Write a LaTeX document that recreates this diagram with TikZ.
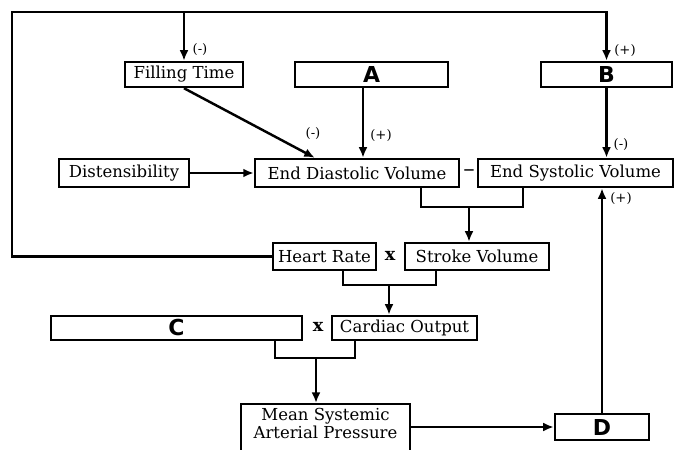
\documentclass[tikz,border=0pt]{standalone}
\usepackage{fontspec}
\setmainfont{DejaVu Serif}
\newfontfamily\lettersf{DejaVu Sans}
\usetikzlibrary{arrows.meta}

\begin{document}
\begin{tikzpicture}[x=0.02cm,y=-0.02cm,
    box/.style={draw,line width=1.4pt,inner sep=0pt,minimum height=0.5cm,
        font=\fontsize{9.4}{10.2}\selectfont},
    letter/.style={font=\lettersf\bfseries\fontsize{12.5}{12.5}\selectfont},
    sign/.style={inner sep=0pt,font=\fontsize{7.5}{8}\selectfont},
    op/.style={inner sep=0pt,font=\bfseries\fontsize{10}{10}\selectfont},
    wire/.style={line width=1.4pt},
    arr/.style={line width=1.4pt,-{Latex[length=6pt,width=5pt]}}]
    % Схема регуляции: пиксели исходного рисунка, ось y вниз.
    \useasboundingbox (0,0) rectangle (675,449);

    \node[box,minimum width=2.36cm] (ft) at (184,74.5) {Filling Time};
    \node[box,letter,minimum width=3.06cm] (A) at (371.5,74.5) {A};
    \node[box,letter,minimum width=2.62cm] (B) at (606.5,74.5) {B};
    \node[box,minimum width=2.6cm,minimum height=0.56cm] (dist) at (124,173) {Distensibility};
    \node[box,minimum width=4.08cm,minimum height=0.56cm] (edv) at (357,173) {End Diastolic Volume};
    \node[box,minimum width=3.9cm,minimum height=0.56cm] (esv) at (575.5,173) {End Systolic Volume};
    \node[inner sep=0pt,font=\fontsize{13}{13}\selectfont] (minus) at (469,173) {--};
    \node[box,minimum width=2.06cm,minimum height=0.54cm] (hr) at (324.5,256.5) {Heart Rate};
    \node[box,minimum width=2.88cm,minimum height=0.54cm] (sv) at (477,256.5) {Stroke Volume};
    \node[op] (times1) at (390,256) {x};
    \node[box,letter,minimum width=5.02cm,minimum height=0.48cm] (C) at (176.5,328) {C};
    \node[box,minimum width=2.9cm,minimum height=0.48cm] (co) at (404.5,328) {Cardiac Output};
    \node[op] (times2) at (318,327) {x};
    \node[box,align=center,minimum width=3.38cm,minimum height=1.04cm,text depth=0.28cm,anchor=north] (msap)
        at (325.5,403) {Mean Systemic\\Arterial Pressure};
    \node[box,letter,minimum width=1.88cm,minimum height=0.52cm] (D) at (602,427) {D};

    % Обратная связь через частоту сердечных сокращений
    \coordinate (tl) at (12,12);
    \draw[arr] (hr.west) -| (tl) -| (B.north);
    \draw[arr] (tl -| ft.north) -- (ft.north);
    \node[sign] (s1) at (200,50) {(-)};
    \node[sign] (s2) at (625,51) {(+)};

    \draw[arr] (ft.south) -- ([xshift=1.22cm]edv.north west);
    \node[sign] (s3) at (313,134) {(-)};
    \draw[arr] ([xshift=-0.17cm]A.south) -- ([xshift=-0.17cm]A.south |- edv.north);
    \node[sign] (s4) at (381,136) {(+)};
    \draw[arr] (B.south) -- (B.south |- esv.north);
    \node[sign] (s5) at (621,145) {(-)};
    \draw[arr] (dist.east) -- (edv.west);

    \coordinate (j1) at (469,207);
    \draw[wire] ([xshift=1.28cm]edv.south) |- (j1) -| ([xshift=-1.05cm]esv.south);
    \draw[arr] (j1) -- (j1 |- sv.north);

    \coordinate (j2) at (389,285);
    \draw[wire] ([xshift=0.37cm]hr.south) |- (j2) -| ([xshift=-0.82cm]sv.south);
    \draw[arr] (j2) -- (j2 |- co.north);

    \coordinate (j3) at (316,358);
    \draw[wire] ([xshift=1.97cm]C.south) |- (j3) -| ([xshift=-0.99cm]co.south);
    \draw[arr] (j3) -- (j3 |- msap.north);

    \draw[arr] (msap.east |- D.west) -- (D.west);
    \draw[arr] (D.north) -- (D.north |- esv.south);
    \node[sign] (s6) at (621,199) {(+)};
\end{tikzpicture}
\end{document}
